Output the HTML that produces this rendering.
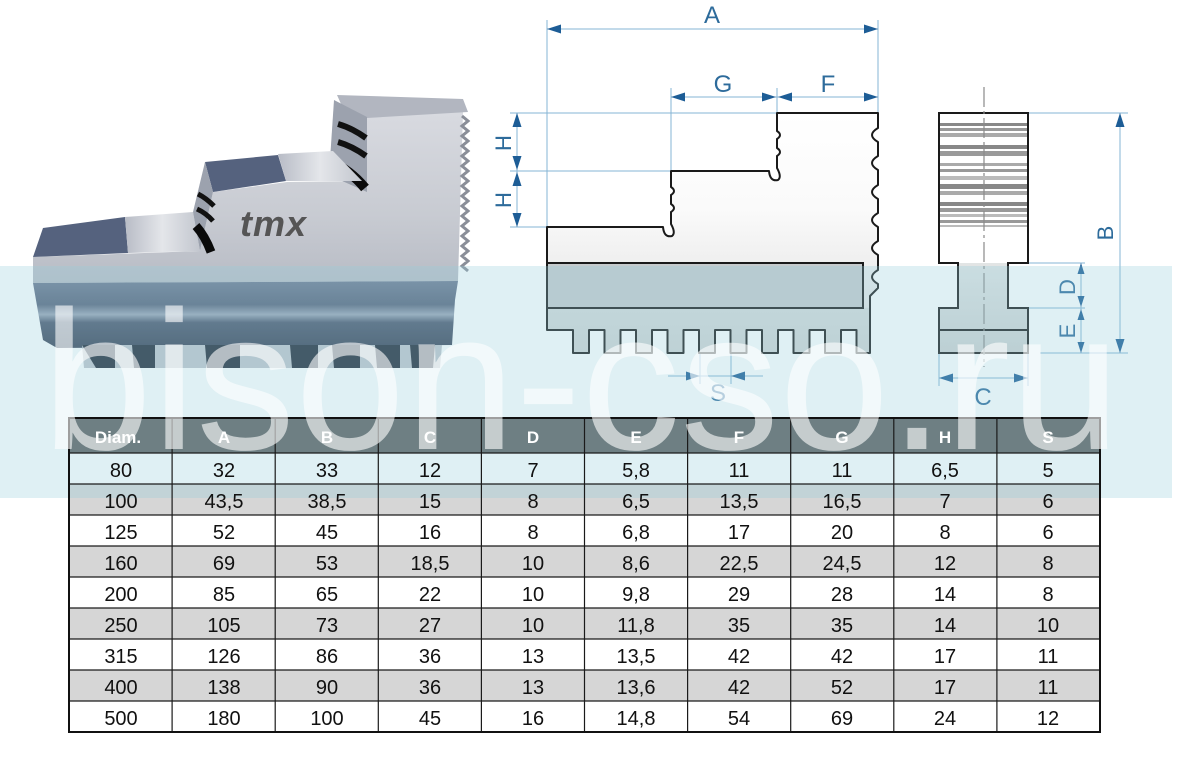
<!DOCTYPE html>
<html><head><meta charset="utf-8">
<style>
html,body{margin:0;padding:0;background:#fff;}
body{width:1190px;height:763px;overflow:hidden;}
svg{display:block;}
</style></head>
<body>
<svg width="1190" height="763" viewBox="0 0 1190 763" xmlns="http://www.w3.org/2000/svg">
<defs>
<linearGradient id="face" x1="0" y1="112" x2="0" y2="283" gradientUnits="userSpaceOnUse">
<stop offset="0" stop-color="#d8dae0"/><stop offset="0.6" stop-color="#c8cbd2"/><stop offset="1" stop-color="#b8bcc5"/>
</linearGradient>
<linearGradient id="baseg" x1="0" y1="281" x2="0" y2="348" gradientUnits="userSpaceOnUse">
<stop offset="0" stop-color="#6e7a92"/><stop offset="0.35" stop-color="#58647c"/><stop offset="0.5" stop-color="#9aa4b6"/><stop offset="0.62" stop-color="#4c576e"/><stop offset="1" stop-color="#3a4458"/>
</linearGradient>
<linearGradient id="jaw" x1="0" y1="113" x2="0" y2="353" gradientUnits="userSpaceOnUse">
<stop offset="0" stop-color="#ffffff"/><stop offset="0.4" stop-color="#fafafa"/><stop offset="0.81" stop-color="#e6e6e6"/><stop offset="0.8125" stop-color="#d6dada"/><stop offset="1" stop-color="#d0d4d4"/>
</linearGradient>
<linearGradient id="side" x1="0" y1="263" x2="0" y2="353" gradientUnits="userSpaceOnUse">
<stop offset="0" stop-color="#e2e5e5"/><stop offset="1" stop-color="#cdd1d1"/>
</linearGradient>
<linearGradient id="rail" x1="0" y1="0" x2="1" y2="0">
<stop offset="0" stop-color="#b8bcc6"/><stop offset="0.5" stop-color="#e4e6ea"/><stop offset="1" stop-color="#c2c6ce"/>
</linearGradient>
</defs>

<!-- ===== PHOTO ===== -->
<polygon points="33,257 200,251 213,192 287,182 363,181 367,117 463,112 458,281 33,283" fill="url(#face)"/>
<polygon points="337,95 463,99 468,112 367,118 341,104" fill="#b2b6c0"/>
<polygon points="334,100 367,117 367,192 340,180 330,160" fill="#9ca2ae"/>
<path d="M338,124 Q352,128 366,138" stroke="#111" stroke-width="6" fill="none"/>
<path d="M338,142 Q352,146 366,156" stroke="#111" stroke-width="6" fill="none"/>
<path d="M331,162 Q350,170 365,188" stroke="#0a0a0a" stroke-width="10" fill="none"/>
<polygon points="205,162 278,155 286,181 213,192" fill="#55627e"/>
<polygon points="278,154 333,151 362,181 286,181" fill="url(#rail)"/>
<polygon points="33,257 43,228 125,217 128,253" fill="#55627e"/>
<polygon points="125,217 193,212 200,251 128,253" fill="url(#rail)"/>
<polygon points="193,212 205,162 213,192 200,251" fill="#9ca2ae"/>
<path d="M198,194 Q206,198 214,206" stroke="#111" stroke-width="5" fill="none"/>
<path d="M197,209 Q206,213 213,221" stroke="#111" stroke-width="5" fill="none"/>
<path d="M196,226 Q205,236 211,252" stroke="#0a0a0a" stroke-width="9" fill="none"/>
<path d="M462,116 l6,5 -6,5 6,5 -6,5 6,5 -6,5 6,5 -6,5 6,5 -6,5 6,5 -6,5 6,5 -6,5 6,5 -6,5 6,5 -6,5 6,5 -6,5 6,5 -6,5 6,5 -6,5 6,5 -6,5 6,5 -6,5 6,5 -6,5 6,5" stroke="#8a8e98" stroke-width="3" fill="none"/>
<text x="240" y="236" font-family="Liberation Sans, Arial, sans-serif" font-weight="bold" font-style="italic" font-size="36" fill="#555" letter-spacing="1">tmx</text>
<polygon points="33,283 458,281 455,300 452,345 57,348 43,340" fill="url(#baseg)"/>
<polygon points="82,345 442,345 440,368 84,368" fill="#c0c4cc"/>
<polygon points="82,345 115,345 115,368 96,368" fill="#222a38"/>
<polygon points="132,345 155,345 155,368 134,368" fill="#222a38"/>
<polygon points="205,345 240,345 240,368 207,368" fill="#222a38"/>
<polygon points="290,345 318,345 318,368 292,368" fill="#222a38"/>
<polygon points="332,345 360,345 360,368 334,368" fill="#222a38"/>
<polygon points="375,345 400,345 400,368 377,368" fill="#222a38"/>
<polygon points="410,345 435,345 433,368 412,368" fill="#222a38"/>

<!-- ===== FRONT VIEW DRAWING ===== -->
<g stroke="#86b4d4" stroke-width="1" fill="none">
<line x1="547" y1="20" x2="547" y2="227"/>
<line x1="878" y1="20" x2="878" y2="113"/>
<line x1="547" y1="29" x2="878" y2="29"/>
<line x1="671" y1="88" x2="671" y2="171"/>
<line x1="777" y1="88" x2="777" y2="113"/>
<line x1="671" y1="97" x2="878" y2="97"/>
<line x1="510" y1="113" x2="777" y2="113"/>
<line x1="510" y1="171" x2="671" y2="171"/>
<line x1="510" y1="227" x2="547" y2="227"/>
<line x1="517" y1="113" x2="517" y2="227"/>
<line x1="700" y1="345" x2="700" y2="384"/>
<line x1="731" y1="345" x2="731" y2="384"/>
<line x1="668" y1="376" x2="763" y2="376"/>
</g>
<path d="M547,227 L663,227 Q664,238 672,236 Q676,233 671,224 L671,212 Q677,208 671,204 L671,195 Q677,191 671,187 L671,171 L769,171 Q770,182 778,180 Q782,177 777,168 L777,156 Q783,152 777,148 L777,139 Q783,135 777,131 L777,113 L878,113 L878,128 Q866,135 878,142 L878,156 Q866,163 878,170 L878,185 Q866,192 878,199 L878,213 Q866,220 878,227 L878,241 Q866,248 878,255 L878,270 Q866,277 878,284 L878,288 L870,296 L870,353 L856.5,353 L856.5,330 L841,330 L841,353 L825,353 L825,330 L809.5,330 L809.5,353 L793.5,353 L793.5,330 L778,330 L778,353 L762,353 L762,330 L746.5,330 L746.5,353 L730.5,353 L730.5,330 L715,330 L715,353 L699,353 L699,330 L683.5,330 L683.5,353 L667.5,353 L667.5,330 L652,330 L652,353 L636,353 L636,330 L620.5,330 L620.5,353 L604.5,353 L604.5,330 L589,330 L589,353 L573,353 L573,330 L547,330 Z" fill="url(#jaw)" stroke="#1a1a1a" stroke-width="2" stroke-linejoin="round"/>
<rect x="547" y="263" width="316" height="45" fill="#c6cbcd" stroke="#1a1a1a" stroke-width="2"/>
<g fill="#1d5d96">
<polygon points="547,29 561,24.5 561,33.5"/>
<polygon points="878,29 864,24.5 864,33.5"/>
<polygon points="671,97 685,92.5 685,101.5"/>
<polygon points="776,97 762,92.5 762,101.5"/>
<polygon points="778,97 792,92.5 792,101.5"/>
<polygon points="878,97 864,92.5 864,101.5"/>
<polygon points="517,113 512.5,127 521.5,127"/>
<polygon points="517,170 512.5,156 521.5,156"/>
<polygon points="517,172 512.5,186 521.5,186"/>
<polygon points="517,227 512.5,213 521.5,213"/>
<polygon points="700,376 686,371.5 686,380.5"/>
<polygon points="731,376 745,371.5 745,380.5"/>
</g>
<g font-family="Liberation Sans, Arial, sans-serif" font-size="24" fill="#2d6b9b" text-anchor="middle">
<text x="712" y="23">A</text>
<text x="723" y="92">G</text>
<text x="828" y="92">F</text>
<text x="718" y="401">S</text>
<text transform="translate(503,143) rotate(-90)" y="8" font-size="22">H</text>
<text transform="translate(503,200) rotate(-90)" y="8" font-size="22">H</text>
</g>

<!-- ===== SIDE VIEW ===== -->
<g stroke="#86b4d4" stroke-width="1" fill="none">
<line x1="1028" y1="113" x2="1128" y2="113"/>
<line x1="1040" y1="353" x2="1128" y2="353"/>
<line x1="1120" y1="113" x2="1120" y2="353"/>
<line x1="1028" y1="263" x2="1085" y2="263"/>
<line x1="1008" y1="308" x2="1085" y2="308"/>
<line x1="1081" y1="263" x2="1081" y2="353"/>
<line x1="939" y1="353" x2="939" y2="386"/>
<line x1="1028" y1="353" x2="1028" y2="386"/>
<line x1="939" y1="378" x2="1028" y2="378"/>
</g>
<rect x="939" y="113" width="89" height="150" fill="#fff"/>
<g>
<rect x="940" y="123" width="87" height="3" fill="#888"/>
<rect x="940" y="128" width="87" height="3" fill="#999"/>
<rect x="940" y="133" width="87" height="4" fill="#aaa"/>
<rect x="940" y="145" width="87" height="4" fill="#888"/>
<rect x="940" y="151" width="87" height="5" fill="#9a9a9a"/>
<rect x="940" y="163" width="87" height="3" fill="#aaa"/>
<rect x="940" y="169" width="87" height="3" fill="#999"/>
<rect x="940" y="176" width="87" height="4" fill="#bbb"/>
<rect x="940" y="184" width="87" height="5" fill="#888"/>
<rect x="940" y="191" width="87" height="4" fill="#aaa"/>
<rect x="940" y="202" width="87" height="4" fill="#888"/>
<rect x="940" y="208" width="87" height="4" fill="#999"/>
<rect x="940" y="214" width="87" height="3" fill="#bbb"/>
<rect x="940" y="220" width="87" height="3" fill="#999"/>
<rect x="940" y="225" width="87" height="2" fill="#bbb"/>
</g>
<path d="M939,263 L958,263 L958,308 L939,308 L939,353 L1028,353 L1028,308 L1008,308 L1008,263 L1028,263 Z" fill="url(#side)"/>
<path d="M939,113 L1028,113 L1028,263 L1008,263 L1008,308 L1028,308 L1028,353 L939,353 L939,308 L958,308 L958,263 L939,263 Z" fill="none" stroke="#1a1a1a" stroke-width="2" stroke-linejoin="miter"/>
<line x1="939" y1="330" x2="1028" y2="330" stroke="#1a1a1a" stroke-width="2"/>
<line x1="984" y1="87" x2="984" y2="367" stroke="#8a8a8a" stroke-width="1.2" stroke-dasharray="20 4 3 4"/>
<g fill="#1d5d96">
<polygon points="1120,113 1115.5,127 1124.5,127"/>
<polygon points="1120,353 1115.5,339 1124.5,339"/>
<polygon points="1081,263 1077.5,274 1084.5,274"/>
<polygon points="1081,307 1077.5,296 1084.5,296"/>
<polygon points="1081,309 1077.5,320 1084.5,320"/>
<polygon points="1081,353 1077.5,342 1084.5,342"/>
<polygon points="939,378 953,373.5 953,382.5"/>
<polygon points="1028,378 1014,373.5 1014,382.5"/>
</g>
<g font-family="Liberation Sans, Arial, sans-serif" font-size="24" fill="#2d6b9b" text-anchor="middle">
<text x="983" y="405">C</text>
<text transform="translate(1105,233) rotate(-90)" y="8" font-size="22">B</text>
<text transform="translate(1067,287) rotate(-90)" y="8" font-size="22">D</text>
<text transform="translate(1067,331) rotate(-90)" y="8" font-size="22">E</text>
</g>

<!-- ===== TABLE BACKGROUNDS ===== -->
<rect x="69" y="418" width="1031" height="35" fill="#5e5e5e"/>
<rect x="69" y="453" width="1031" height="279" fill="#fff"/>
<rect x="69" y="484" width="1031" height="31" fill="#d6d6d6"/>
<rect x="69" y="546" width="1031" height="31" fill="#d6d6d6"/>
<rect x="69" y="608" width="1031" height="31" fill="#d6d6d6"/>
<rect x="69" y="670" width="1031" height="31" fill="#d6d6d6"/>

<!-- ===== BAND ===== -->
<rect x="0" y="266" width="1172" height="232" fill="rgb(148,205,218)" fill-opacity="0.3"/>

<!-- ===== TABLE LINES & TEXT ===== -->
<g stroke="#1a1a1a" stroke-width="1.2">
<line x1="69" y1="453" x2="1100" y2="453"/>
<line x1="69" y1="484" x2="1100" y2="484"/>
<line x1="69" y1="515" x2="1100" y2="515"/>
<line x1="69" y1="546" x2="1100" y2="546"/>
<line x1="69" y1="577" x2="1100" y2="577"/>
<line x1="69" y1="608" x2="1100" y2="608"/>
<line x1="69" y1="639" x2="1100" y2="639"/>
<line x1="69" y1="670" x2="1100" y2="670"/>
<line x1="69" y1="701" x2="1100" y2="701"/>
<line x1="172.1" y1="418" x2="172.1" y2="732"/>
<line x1="275.2" y1="418" x2="275.2" y2="732"/>
<line x1="378.3" y1="418" x2="378.3" y2="732"/>
<line x1="481.4" y1="418" x2="481.4" y2="732"/>
<line x1="584.5" y1="418" x2="584.5" y2="732"/>
<line x1="687.6" y1="418" x2="687.6" y2="732"/>
<line x1="790.7" y1="418" x2="790.7" y2="732"/>
<line x1="893.8" y1="418" x2="893.8" y2="732"/>
<line x1="996.9" y1="418" x2="996.9" y2="732"/>
</g>
<rect x="69" y="418" width="1031" height="314" fill="none" stroke="#111" stroke-width="2"/>
<g font-family="Liberation Sans, Arial, sans-serif" font-size="20" fill="#111" text-anchor="middle">
<text x="121" y="477">80</text><text x="224" y="477">32</text><text x="327" y="477">33</text><text x="430" y="477">12</text><text x="533" y="477">7</text><text x="636" y="477">5,8</text><text x="739" y="477">11</text><text x="842" y="477">11</text><text x="945" y="477">6,5</text><text x="1048" y="477">5</text>
<text x="121" y="508">100</text><text x="224" y="508">43,5</text><text x="327" y="508">38,5</text><text x="430" y="508">15</text><text x="533" y="508">8</text><text x="636" y="508">6,5</text><text x="739" y="508">13,5</text><text x="842" y="508">16,5</text><text x="945" y="508">7</text><text x="1048" y="508">6</text>
<text x="121" y="539">125</text><text x="224" y="539">52</text><text x="327" y="539">45</text><text x="430" y="539">16</text><text x="533" y="539">8</text><text x="636" y="539">6,8</text><text x="739" y="539">17</text><text x="842" y="539">20</text><text x="945" y="539">8</text><text x="1048" y="539">6</text>
<text x="121" y="570">160</text><text x="224" y="570">69</text><text x="327" y="570">53</text><text x="430" y="570">18,5</text><text x="533" y="570">10</text><text x="636" y="570">8,6</text><text x="739" y="570">22,5</text><text x="842" y="570">24,5</text><text x="945" y="570">12</text><text x="1048" y="570">8</text>
<text x="121" y="601">200</text><text x="224" y="601">85</text><text x="327" y="601">65</text><text x="430" y="601">22</text><text x="533" y="601">10</text><text x="636" y="601">9,8</text><text x="739" y="601">29</text><text x="842" y="601">28</text><text x="945" y="601">14</text><text x="1048" y="601">8</text>
<text x="121" y="632">250</text><text x="224" y="632">105</text><text x="327" y="632">73</text><text x="430" y="632">27</text><text x="533" y="632">10</text><text x="636" y="632">11,8</text><text x="739" y="632">35</text><text x="842" y="632">35</text><text x="945" y="632">14</text><text x="1048" y="632">10</text>
<text x="121" y="663">315</text><text x="224" y="663">126</text><text x="327" y="663">86</text><text x="430" y="663">36</text><text x="533" y="663">13</text><text x="636" y="663">13,5</text><text x="739" y="663">42</text><text x="842" y="663">42</text><text x="945" y="663">17</text><text x="1048" y="663">11</text>
<text x="121" y="694">400</text><text x="224" y="694">138</text><text x="327" y="694">90</text><text x="430" y="694">36</text><text x="533" y="694">13</text><text x="636" y="694">13,6</text><text x="739" y="694">42</text><text x="842" y="694">52</text><text x="945" y="694">17</text><text x="1048" y="694">11</text>
<text x="121" y="725">500</text><text x="224" y="725">180</text><text x="327" y="725">100</text><text x="430" y="725">45</text><text x="533" y="725">16</text><text x="636" y="725">14,8</text><text x="739" y="725">54</text><text x="842" y="725">69</text><text x="945" y="725">24</text><text x="1048" y="725">12</text>
</g>

<!-- ===== WATERMARK ===== -->
<text x="42" y="449" font-family="Liberation Sans, Arial, sans-serif" font-size="198" fill="#ffffff" fill-opacity="0.6">bison-cso.ru</text>

<!-- header labels (white, over watermark) -->
<g font-family="Liberation Sans, Arial, sans-serif" font-size="17" font-weight="bold" fill="#fff" text-anchor="middle">
<text x="118" y="443">Diam.</text><text x="224" y="443">A</text><text x="327" y="443">B</text><text x="430" y="443">C</text><text x="533" y="443">D</text><text x="636" y="443">E</text><text x="739" y="443">F</text><text x="842" y="443">G</text><text x="945" y="443">H</text><text x="1048" y="443">S</text>
</g>
</svg>
</body></html>
